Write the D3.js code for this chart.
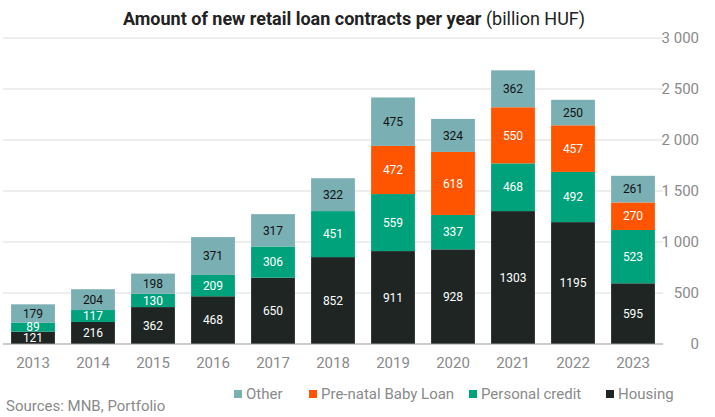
<html>
<head>
<meta charset="utf-8">
<script src="https://d3js.org/d3.v7.min.js"></script>
<style>
body { margin: 0; background: #fff; font-family: Roboto, sans-serif; }
</style>
</head>
<body>
<div id="chart"></div>
<script>
var years = ["2013","2014","2015","2016","2017","2018","2019","2020","2021","2022","2023"];
var housing = [121,216,362,468,650,852,911,928,1303,1195,595];
var personal = [89,117,130,209,306,451,559,337,468,492,523];
var babyLoan = [0,0,0,0,0,0,472,618,550,457,270];
var other = [179,204,198,371,317,322,475,324,362,250,261];
var yTicks = [0,500,1000,1500,2000,2500,3000];

var keys = ["housing","personal","baby","other"];
var names = {housing:"Housing", personal:"Personal credit", baby:"Pre-natal Baby Loan", other:"Other"};
var colors = {housing:"#1e2523", personal:"#00a27c", baby:"#ff5500", other:"#7aafb4"};
var textCol = {housing:"#fff", personal:"#fff", baby:"#fff", other:"#111"};

var data = years.map(function(y, i) {
  return {year:y, housing:housing[i], personal:personal[i], baby:babyLoan[i], other:other[i]};
});

var W = 715, H = 417;
var svg = d3.select("#chart").append("svg").attr("width", W).attr("height", H);

var x = d3.scaleBand().domain(years).range([3, 663]).paddingInner(0.27).paddingOuter(0.135);
var y = d3.scaleLinear().domain([0, 3000]).range([344, 38]);

// grid
svg.append("g").selectAll("line").data(yTicks.slice(1)).enter().append("line")
  .attr("x1", 3).attr("x2", 663)
  .attr("y1", function(d) { return y(d); }).attr("y2", function(d) { return y(d); })
  .attr("stroke", "#dcdcdc");

// y labels on right
svg.append("g").selectAll("text").data(yTicks).enter().append("text")
  .attr("x", 699).attr("y", function(d) { return y(d); }).attr("dy", "0.35em")
  .attr("text-anchor", "end").attr("fill", "#8a8a8a").style("font-size", "15px")
  .text(function(d) { return d3.format(",")(d).replace(/,/g, " "); });

var stack = d3.stack().keys(keys)(data);

var layer = svg.append("g").selectAll("g").data(stack).enter().append("g")
  .attr("fill", function(d) { return colors[d.key]; });
layer.selectAll("rect").data(function(d) { return d; }).enter().append("rect")
  .attr("x", function(d) { return x(d.data.year); })
  .attr("width", x.bandwidth())
  .attr("y", function(d) { return y(d[1]); })
  .attr("height", function(d) { return y(d[0]) - y(d[1]); });

stack.forEach(function(s) {
  svg.append("g").selectAll("text").data(s.filter(function(d) { return d[1] - d[0] > 0; }))
    .enter().append("text")
    .attr("x", function(d) { return x(d.data.year) + x.bandwidth() / 2; })
    .attr("y", function(d) { return (y(d[0]) + y(d[1])) / 2; })
    .attr("dy", "0.35em").attr("text-anchor", "middle")
    .attr("fill", textCol[s.key]).style("font-size", "12px")
    .text(function(d) { return d[1] - d[0]; });
});

// baseline + x axis labels
svg.append("line").attr("x1", 3).attr("x2", 663).attr("y1", 344).attr("y2", 344)
  .attr("stroke", "#999");
svg.append("g").selectAll("text").data(years).enter().append("text")
  .attr("x", function(d) { return x(d) + x.bandwidth() / 2; }).attr("y", 368)
  .attr("text-anchor", "middle").attr("fill", "#8a8a8a").style("font-size", "15px")
  .text(function(d) { return d; });

// title
var t = svg.append("text").attr("x", 354).attr("y", 25).attr("text-anchor", "middle")
  .style("font-size", "18px").attr("fill", "#222");
t.append("tspan").style("font-weight", "bold").text("Amount of new retail loan contracts per year");
t.append("tspan").text(" (billion HUF)");

// legend
var legendItems = ["other","baby","personal","housing"];
var legendX = [234, 309, 469, 606];
var lg = svg.append("g").selectAll("g").data(legendItems).enter().append("g")
  .attr("transform", function(d, i) { return "translate(" + legendX[i] + ",388)"; });
lg.append("rect").attr("width", 8).attr("height", 8).attr("y", 2)
  .attr("fill", function(d) { return colors[d]; });
lg.append("text").attr("x", 12).attr("y", 6).attr("dy", "0.35em")
  .attr("fill", "#8a8a8a").style("font-size", "15px")
  .text(function(d) { return names[d]; });

svg.append("text").attr("x", 6).attr("y", 411).attr("fill", "#8a8a8a")
  .style("font-size", "15px").text("Sources: MNB, Portfolio");
</script>
</body>
</html>
